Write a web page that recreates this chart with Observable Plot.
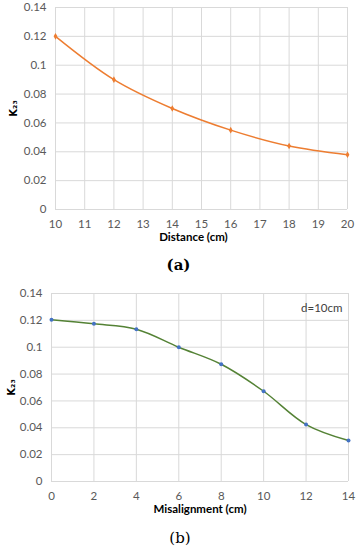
<!DOCTYPE html>
<html><head><meta charset="utf-8">
<script src="https://cdn.jsdelivr.net/npm/d3@7"></script>
<script src="https://cdn.jsdelivr.net/npm/@observablehq/plot@0.6"></script>
<style>
body{margin:0;background:#fff;width:357px;font-family:Lato,"Open Sans",sans-serif;}
.cap{font-family:"DejaVu Serif",serif;font-size:15px;text-align:center;color:#000;}
svg [aria-label="y-axis label"] text{font-weight:bold;fill:#000;font-family:"DejaVu Sans",sans-serif;font-size:10px;}
</style></head><body>
<div id="a"></div>
<div class="cap" style="height:26px;line-height:22px;font-weight:bold">(a)</div>
<div id="b"></div>
<div class="cap" style="height:24px;line-height:24px;padding-left:3px">(b)</div>
<script>
const distance = [10, 12, 14, 16, 18, 20];
const k23Distance = [0.120, 0.090, 0.070, 0.055, 0.044, 0.038];
const misalignment = [0, 2, 4, 6, 8, 10, 12, 14];
const k23Misalign = [0.1205, 0.1174, 0.1134, 0.100, 0.0873, 0.0672, 0.0424, 0.0305];
const yTicks = [0, 0.02, 0.04, 0.06, 0.08, 0.1, 0.12, 0.14];
const yTickLabels = ["0", "0.02", "0.04", "0.06", "0.08", "0.1", "0.12", "0.14"];
const xTicksA = [10, 11, 12, 13, 14, 15, 16, 17, 18, 19, 20];
const xTicksB = [0, 2, 4, 6, 8, 10, 12, 14];
const xTitleA = "Distance (cm)";
const xTitleB = "Misalignment (cm)";
const yTitle = "K₂₃";
const annotation = "d=10cm";

const dataA = distance.map((x, i) => ({x, y: k23Distance[i]}));
const dataB = misalignment.map((x, i) => ({x, y: k23Misalign[i]}));
const grid = "#d9d9d9";
const tickColor = "#595959";
const yFmt = d => yTickLabels[yTicks.indexOf(d)];
const baseStyle = {fontFamily: "Lato, 'Open Sans', sans-serif", fontSize: "11.5px", color: tickColor};

const plotA = Plot.plot({
  width: 357, height: 254,
  marginLeft: 55, marginRight: 10, marginTop: 7, marginBottom: 45,
  style: baseStyle,
  x: {domain: [10, 20]},
  y: {domain: [0, 0.14]},
  marks: [
    Plot.gridX(xTicksA, {stroke: grid, strokeOpacity: 1}),
    Plot.gridY(yTicks, {stroke: grid, strokeOpacity: 1}),
    Plot.axisX(xTicksA, {tickSize: 0, tickPadding: 10, label: null}),
    Plot.axisY(yTicks, {tickSize: 0, tickPadding: 9, tickFormat: yFmt, label: yTitle, labelAnchor: "center", labelArrow: "none", labelOffset: 46}),
    Plot.text([xTitleA], {frameAnchor: "bottom", dx: -8, dy: 31, text: d => d, fontWeight: "bold", fontSize: 11.5, fill: "#000"}),
    Plot.line(dataA, {x: "x", y: "y", curve: "catmull-rom", stroke: "#ED7D31", strokeWidth: 1.5}),
    Plot.dot(dataA, {x: "x", y: "y", r: 2, fill: "#ED7D31", symbol: "diamond"})
  ]
});
document.getElementById("a").append(plotA);

const plotB = Plot.plot({
  width: 357, height: 246,
  marginLeft: 51, marginRight: 9, marginTop: 13, marginBottom: 45,
  style: baseStyle,
  x: {domain: [0, 14]},
  y: {domain: [0, 0.14]},
  marks: [
    Plot.gridX(xTicksB, {stroke: grid, strokeOpacity: 1}),
    Plot.gridY(yTicks, {stroke: grid, strokeOpacity: 1}),
    Plot.axisX(xTicksB, {tickSize: 0, tickPadding: 10, label: null}),
    Plot.axisY(yTicks, {tickSize: 0, tickPadding: 9, tickFormat: yFmt, label: yTitle, labelAnchor: "center", labelArrow: "none", labelOffset: 44}),
    Plot.text([xTitleB], {frameAnchor: "bottom", dy: 31, text: d => d, fontWeight: "bold", fontSize: 11.5, fill: "#000"}),
    Plot.line(dataB, {x: "x", y: "y", curve: "catmull-rom", stroke: "#548235", strokeWidth: 1.5}),
    Plot.dot(dataB, {x: "x", y: "y", r: 2, fill: "#4472C4"}),
    Plot.text([annotation], {x: 14, y: 0.129, text: d => d, textAnchor: "end", dx: -6, fontSize: 11.5, fill: "#404040"})
  ]
});
document.getElementById("b").append(plotB);
</script>
</body></html>
